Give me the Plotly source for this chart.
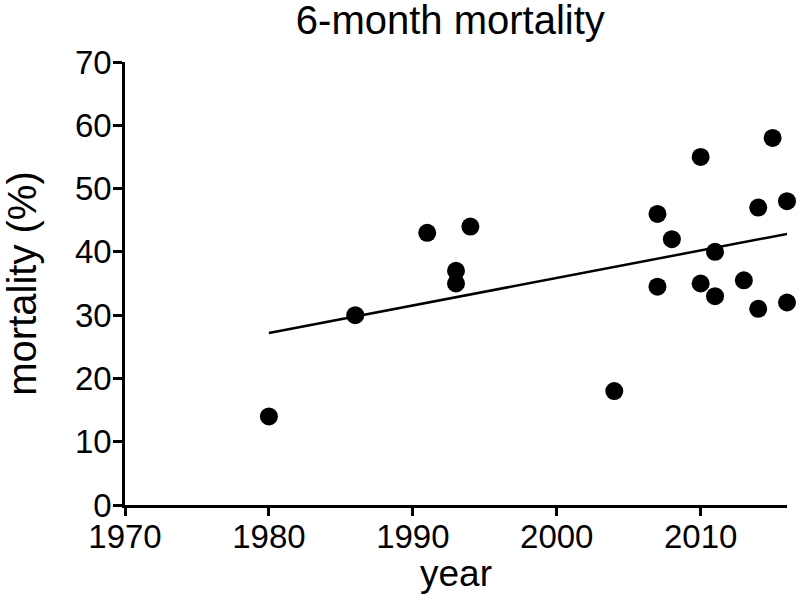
import numpy as np
import plotly.graph_objects as go

years = [1980, 1986, 1991, 1993, 1993, 1994, 2004, 2007, 2007, 2008,
         2010, 2010, 2011, 2011, 2013, 2014, 2014, 2015, 2016, 2016]
mortality = [14, 30, 43, 37, 35, 44, 18, 46, 34.5, 42,
             55, 35, 40, 33, 35.5, 47, 31, 58, 48, 32]
x_ticks = [1970, 1980, 1990, 2000, 2010]
y_ticks = [0, 10, 20, 30, 40, 50, 60, 70]

slope, intercept = np.polyfit(years, mortality, 1)
fit_x = [min(years), max(years)]
fit_y = [slope * v + intercept for v in fit_x]

FONT = "Liberation Sans, Arial, sans-serif"

fig = go.Figure()
fig.add_trace(go.Scatter(x=fit_x, y=fit_y, mode="lines",
                         line=dict(color="black", width=2.5),
                         cliponaxis=False, showlegend=False))
fig.add_trace(go.Scatter(x=years, y=mortality, mode="markers",
                         marker=dict(color="black", size=18, line=dict(width=0)),
                         cliponaxis=False, showlegend=False))

fig.update_layout(
    width=797, height=594,
    margin=dict(l=125, r=10, t=62, b=89),
    plot_bgcolor="white", paper_bgcolor="white",
    font=dict(family=FONT, color="black", size=33),
    title=dict(text="6-month mortality", x=0.565, xanchor="center",
               y=0.966, yanchor="middle", yref="container",
               font=dict(size=40, family=FONT, color="black")),
)
fig.update_xaxes(range=[1970, 2016], tickvals=x_ticks, ticktext=[str(t) for t in x_ticks],
                 automargin=False,
                 showgrid=False, zeroline=False, showline=True, linecolor="black",
                 linewidth=2.5, ticks="outside", ticklen=8, tickwidth=2.5,
                 tickcolor="black", tickfont=dict(size=33, family=FONT),
                 ticklabelstandoff=-7,
                 title=dict(text="year", standoff=13, font=dict(size=37, family=FONT)))
fig.update_yaxes(range=[0, 70], tickvals=y_ticks, ticktext=[str(t) for t in y_ticks],
                 automargin=False,
                 showgrid=False, zeroline=False, showline=True, linecolor="black",
                 linewidth=2.5, ticks="outside", ticklen=9, tickwidth=2.5,
                 tickcolor="black", tickfont=dict(size=33, family=FONT),
                 ticklabelstandoff=-5,
                 title=dict(text="mortality (%)", standoff=44, font=dict(size=40, family=FONT)))

fig.write_html("out.html", config={"displayModeBar": False},
               post_script="document.body.style.margin='0px';")
